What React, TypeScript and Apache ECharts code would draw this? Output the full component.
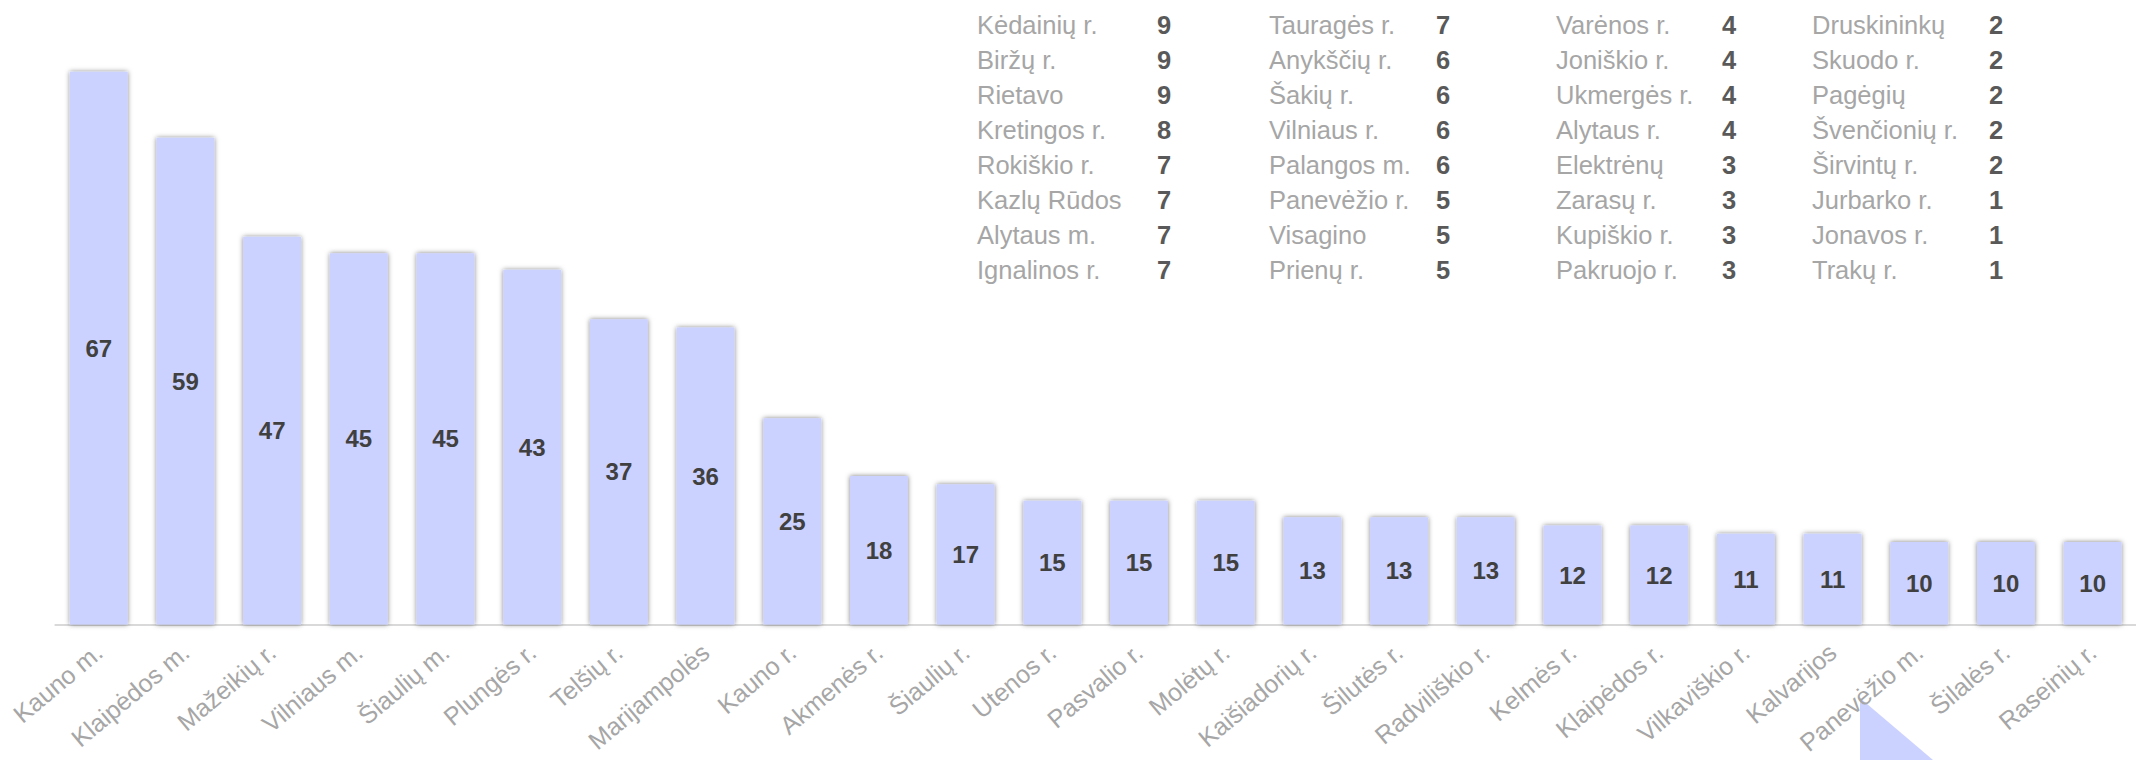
import React, { useEffect, useRef } from "react";
import * as echarts from "echarts";

const categories = [
  "Kauno m.", "Klaipėdos m.", "Mažeikių r.", "Vilniaus m.", "Šiaulių m.", "Plungės r.",
  "Telšių r.", "Marijampolės", "Kauno r.", "Akmenės r.", "Šiaulių r.", "Utenos r.",
  "Pasvalio r.", "Molėtų r.", "Kaišiadorių r.", "Šilutės r.", "Radviliškio r.", "Kelmės r.",
  "Klaipėdos r.", "Vilkaviškio r.", "Kalvarijos", "Panevėžio m.", "Šilalės r.", "Raseinių r.",
];
const values = [67, 59, 47, 45, 45, 43, 37, 36, 25, 18, 17, 15, 15, 15, 13, 13, 13, 12, 12, 11, 11, 10, 10, 10];

const listNames1 = ["Kėdainių r.", "Biržų r.", "Rietavo", "Kretingos r.", "Rokiškio r.", "Kazlų Rūdos", "Alytaus m.", "Ignalinos r."];
const listValues1 = [9, 9, 9, 8, 7, 7, 7, 7];
const listNames2 = ["Tauragės r.", "Anykščių r.", "Šakių r.", "Vilniaus r.", "Palangos m.", "Panevėžio r.", "Visagino", "Prienų r."];
const listValues2 = [7, 6, 6, 6, 6, 5, 5, 5];
const listNames3 = ["Varėnos r.", "Joniškio r.", "Ukmergės r.", "Alytaus r.", "Elektrėnų", "Zarasų r.", "Kupiškio r.", "Pakruojo r."];
const listValues3 = [4, 4, 4, 4, 3, 3, 3, 3];
const listNames4 = ["Druskininkų", "Skuodo r.", "Pagėgių", "Švenčionių r.", "Širvintų r.", "Jurbarko r.", "Jonavos r.", "Trakų r."];
const listValues4 = [2, 2, 2, 2, 2, 1, 1, 1];

const FONT = '"Liberation Sans", Arial, Helvetica, sans-serif';
const BAR = "#CCD2FF";

export default function App() {
  const ref = useRef<HTMLDivElement>(null);
  useEffect(() => {
    if (!ref.current) return;
    const chart = echarts.init(ref.current, null, { renderer: "svg" });

    const cols = [
      { names: listNames1, vals: listValues1, nx: 977, vx: 1157 },
      { names: listNames2, vals: listValues2, nx: 1269, vx: 1436 },
      { names: listNames3, vals: listValues3, nx: 1556, vx: 1722 },
      { names: listNames4, vals: listValues4, nx: 1812, vx: 1989 },
    ];
    const listEls: any[] = [];
    cols.forEach((c) => {
      c.names.forEach((n, i) => {
        const y = 24.5 + i * 35.0;
        listEls.push({
          type: "text", x: c.nx, y,
          style: { text: n, fill: "#A6A6A6", fontFamily: FONT, fontSize: 25.5, verticalAlign: "middle", align: "left" },
        });
        listEls.push({
          type: "text", x: c.vx, y,
          style: { text: String(c.vals[i]), fill: "#595959", fontFamily: FONT, fontSize: 25.5, fontWeight: "bold", verticalAlign: "middle", align: "left" },
        });
      });
    });

    chart.setOption({
      animation: false,
      backgroundColor: "#ffffff",
      grid: { left: 55.4, right: -6.7, top: 47, bottom: 135.5, containLabel: false },
      xAxis: {
        type: "category",
        data: categories,
        axisLine: { show: true, lineStyle: { color: "#D9D9D9", width: 2 } },
        axisTick: { show: false },
        axisLabel: {
          rotate: 40, interval: 0, margin: 24, color: "#A6A6A6",
          fontFamily: FONT, fontSize: 25,
        },
      },
      yAxis: { type: "value", min: 0, max: 70, show: false, splitLine: { show: false } },
      series: [
        {
          type: "bar",
          data: values,
          barCategoryGap: "33.3%",
          itemStyle: { color: BAR, shadowBlur: 5, shadowColor: "rgba(0,0,0,0.5)", shadowOffsetX: 0, shadowOffsetY: 0 },
          label: {
            show: true, position: "inside", color: "#404040",
            fontFamily: FONT, fontSize: 24, fontWeight: "bold",
          },
          z: 2,
        },
      ],
      graphic: [
        {
          type: "polygon", z: 0, silent: true,
          shape: { points: [[1860, 698], [1860, 760], [1933, 760]] },
          style: { fill: BAR },
        },
        ...listEls,
      ],
    });
    return () => chart.dispose();
  }, []);
  return <div ref={ref} style={{ position: "absolute", left: 0, top: 0, width: 2136, height: 760 }} />;
}
